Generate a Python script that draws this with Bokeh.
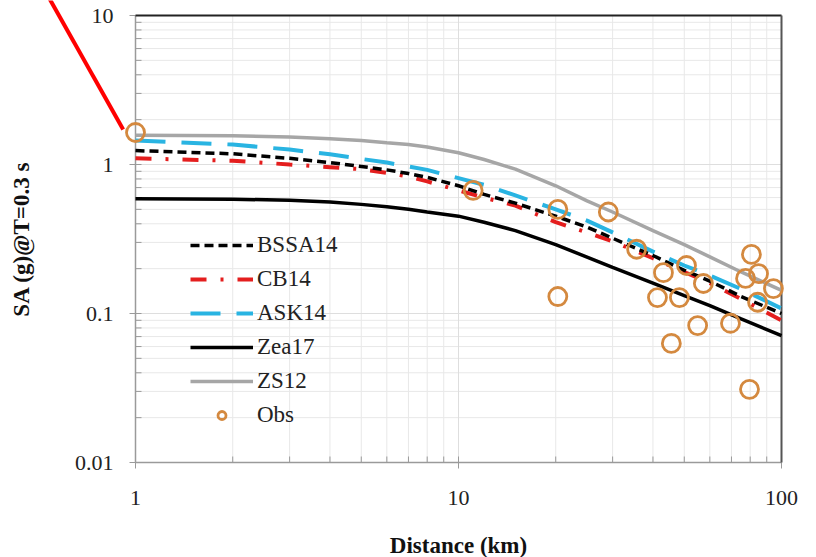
import math
from bokeh.plotting import figure
from bokeh.models import Legend, LegendItem, ColumnDataSource, Range1d
from bokeh.core.properties import value
from bokeh.embed import file_html
from bokeh.resources import INLINE

# Distances (km) at which the model curves are tabulated
dist = [1, 2, 3, 4, 5, 6, 7, 8, 10, 12, 15, 20, 25, 30, 40, 50, 60, 75, 100]

# Spectral acceleration SA(T=0.3 s) in g for each ground-motion model
bssa14 = [1.24, 1.18, 1.10, 1.03, 0.97, 0.92, 0.87, 0.82, 0.72, 0.63, 0.55,
          0.45, 0.38, 0.32, 0.245, 0.195, 0.165, 0.13, 0.10]
cb14 = [1.10, 1.06, 1.00, 0.96, 0.93, 0.88, 0.83, 0.77, 0.67, 0.60, 0.53,
        0.41, 0.35, 0.305, 0.235, 0.19, 0.16, 0.125, 0.09]
ask14 = [1.45, 1.36, 1.26, 1.17, 1.09, 1.03, 0.97, 0.92, 0.81, 0.73, 0.62,
         0.50, 0.42, 0.35, 0.26, 0.21, 0.18, 0.146, 0.108]
zea17 = [0.59, 0.585, 0.575, 0.56, 0.54, 0.52, 0.50, 0.48, 0.45, 0.41, 0.36,
         0.29, 0.239, 0.204, 0.16, 0.132, 0.113, 0.092, 0.071]
zs12 = [1.57, 1.56, 1.53, 1.49, 1.45, 1.40, 1.36, 1.31, 1.20, 1.08, 0.93,
        0.72, 0.57, 0.48, 0.36, 0.29, 0.24, 0.19, 0.143]

# Recorded values
obs_dist = [1.0, 11.1, 20.3, 20.3, 29.1, 35.6, 41.3, 43.1, 45.6, 48.3,
            50.8, 55.0, 57.3, 69.5, 77.4, 79.6, 80.7, 84.3, 84.9, 94.4]
obs_sa = [1.64, 0.67, 0.50, 0.13, 0.48, 0.27, 0.128, 0.188, 0.063, 0.128,
          0.21, 0.083, 0.159, 0.086, 0.172, 0.031, 0.249, 0.119, 0.185, 0.147]

x_major = [1, 10, 100]
x_minor = [2, 3, 4, 5, 6, 7, 8, 9, 20, 30, 40, 50, 60, 70, 80, 90]
y_major = [0.01, 0.1, 1, 10]
y_minor = [0.02, 0.03, 0.04, 0.05, 0.06, 0.07, 0.08, 0.09,
           0.2, 0.3, 0.4, 0.5, 0.6, 0.7, 0.8, 0.9,
           2, 3, 4, 5, 6, 7, 8, 9]
x_tick_labels = ["1", "10", "100"]
y_tick_labels = ["0.01", "0.1", "1", "10"]
x_title = "Distance (km)"
y_title = "SA (g)@T=0.3 s"

# red pointer from the upper-left toward the nearest record
pointer_x = [0.535, 0.916]
pointer_y = [13.6, 1.72]

SERIF = "Liberation Serif"
AXIS_GREY = "#9a9a9a"
W, H = 816, 557

# The frame fills the whole canvas so nothing (pointer, tick labels) is
# clipped; the data box (1..100, 0.01..10) sits inside it at these pixels.
BOX_LEFT, BOX_RIGHT, BOX_TOP, BOX_BOTTOM = 135, 781, 15, 462
px_dec_x = (BOX_RIGHT - BOX_LEFT) / 2.0
px_dec_y = (BOX_BOTTOM - BOX_TOP) / 3.0
x_lo = 10 ** (0 - BOX_LEFT / px_dec_x)
x_hi = 10 ** (2 + (W - BOX_RIGHT) / px_dec_x)
y_lo = 10 ** (-2 - (H - BOX_BOTTOM) / px_dec_y)
y_hi = 10 ** (1 + BOX_TOP / px_dec_y)

p = figure(width=W, height=H, x_axis_type="log", y_axis_type="log",
           x_range=Range1d(x_lo, x_hi), y_range=Range1d(y_lo, y_hi),
           x_axis_location=None, y_axis_location=None,
           output_backend="svg", toolbar_location=None,
           min_border_left=0, min_border_right=0,
           min_border_top=0, min_border_bottom=0)
p.outline_line_color = None
p.background_fill_color = "white"
p.border_fill_color = "white"
p.grid.visible = False

X0, X1 = x_major[0], x_major[-1]
Y0, Y1 = y_major[0], y_major[-1]

# grid lines inside the data box
p.segment(x0=x_minor, y0=[Y0] * len(x_minor), x1=x_minor, y1=[Y1] * len(x_minor),
          line_color="#e8e8e8", line_width=1, level="underlay")
p.segment(x0=[X0] * len(y_minor), y0=y_minor, x1=[X1] * len(y_minor), y1=y_minor,
          line_color="#e8e8e8", line_width=1, level="underlay")
p.segment(x0=x_major, y0=[Y0] * len(x_major), x1=x_major, y1=[Y1] * len(x_major),
          line_color="#dedede", line_width=1, level="underlay")
p.segment(x0=[X0] * len(y_major), y0=y_major, x1=[X1] * len(y_major), y1=y_major,
          line_color="#dedede", line_width=1, level="underlay")

# x axis along y = 0.01
p.segment(x0=[X0], y0=[Y0], x1=[X1], y1=[Y0], line_color=AXIS_GREY, line_width=1.5)
p.ray(x=x_major, y=[Y0] * len(x_major), length=6, length_units="screen",
      angle=math.pi / 2, line_color=AXIS_GREY, line_width=1)
p.ray(x=x_major, y=[Y0] * len(x_major), length=6, length_units="screen",
      angle=-math.pi / 2, line_color=AXIS_GREY, line_width=1)
p.ray(x=x_minor, y=[Y0] * len(x_minor), length=6, length_units="screen",
      angle=math.pi / 2, line_color=AXIS_GREY, line_width=1)
p.text(x=x_major, y=[Y0] * len(x_major), text=x_tick_labels, y_offset=35,
       text_align="center", text_baseline="middle", text_font=value(SERIF),
       text_font_size=value("22px"), text_color="#222222")
p.text(x=[math.sqrt(X0 * X1)], y=[Y0], text=[x_title], y_offset=83,
       text_align="center", text_baseline="middle", text_font=value(SERIF),
       text_font_style="bold", text_font_size=value("23px"), text_color="#111111")

# y axis along x = 1
p.segment(x0=[X0], y0=[Y0], x1=[X0], y1=[Y1], line_color=AXIS_GREY, line_width=1.5)
p.ray(x=[X0] * len(y_major), y=y_major, length=6, length_units="screen", angle=0,
      line_color=AXIS_GREY, line_width=1)
p.ray(x=[X0] * len(y_major), y=y_major, length=6, length_units="screen", angle=math.pi,
      line_color=AXIS_GREY, line_width=1)
p.ray(x=[X0] * len(y_minor), y=y_minor, length=6, length_units="screen", angle=0,
      line_color=AXIS_GREY, line_width=1)
p.text(x=[X0] * len(y_major), y=y_major, text=y_tick_labels, x_offset=-22,
       text_align="right", text_baseline="middle", text_font=value(SERIF),
       text_font_size=value("22px"), text_color="#222222")
p.text(x=[X0], y=[math.sqrt(Y0 * Y1)], text=[y_title],
       angle=math.pi / 2, x_offset=-114, text_align="center", text_baseline="middle",
       text_font=value(SERIF), text_font_style="bold",
       text_font_size=value("23px"), text_color="#111111")

# top and right edges of the data box
p.segment(x0=[X0], y0=[Y1], x1=[X1], y1=[Y1], line_color="#222222", line_width=2)
p.segment(x0=[X1], y0=[Y0], x1=[X1], y1=[Y1], line_color="#555555", line_width=2)

src = ColumnDataSource(dict(d=dist, bssa=bssa14, cb=cb14, ask=ask14,
                            zea=zea17, zs=zs12))

r_zs = p.line("d", "zs", source=src, line_color="#a6a6a6", line_width=3.5)
r_zea = p.line("d", "zea", source=src, line_color="black", line_width=3.5)
r_ask = p.line("d", "ask", source=src, line_color="#29b4e2", line_width=4,
               line_dash="30 16")
r_cb = p.line("d", "cb", source=src, line_color="#e41e1e", line_width=4,
              line_dash="16 14 3 14")
r_bssa = p.line("d", "bssa", source=src, line_color="black", line_width=3.5,
                line_dash="9 5")
r_obs = p.scatter(obs_dist, obs_sa, marker="circle", size=18,
                  fill_color=None, line_color="#d4893f", line_width=2.8)

p.line(pointer_x, pointer_y, line_color="#ff0000", line_width=4)

legend = Legend(items=[
    LegendItem(label="BSSA14", renderers=[r_bssa]),
    LegendItem(label="CB14", renderers=[r_cb]),
    LegendItem(label="ASK14", renderers=[r_ask]),
    LegendItem(label="Zea17", renderers=[r_zea]),
    LegendItem(label="ZS12", renderers=[r_zs]),
    LegendItem(label="Obs", renderers=[r_obs]),
], location=(BOX_LEFT + 55, H - BOX_BOTTOM + 34), orientation="vertical")
legend.background_fill_alpha = 0
legend.border_line_color = None
legend.label_text_font = SERIF
legend.label_text_font_size = "23px"
legend.label_text_color = "#222222"
legend.glyph_width = 63
legend.glyph_height = 20
legend.label_height = 20
legend.label_standoff = 4
legend.spacing = 8
legend.padding = 5
legend.margin = 0
p.add_layout(legend, "center")

open("out.html", "w").write(file_html(p, INLINE))
